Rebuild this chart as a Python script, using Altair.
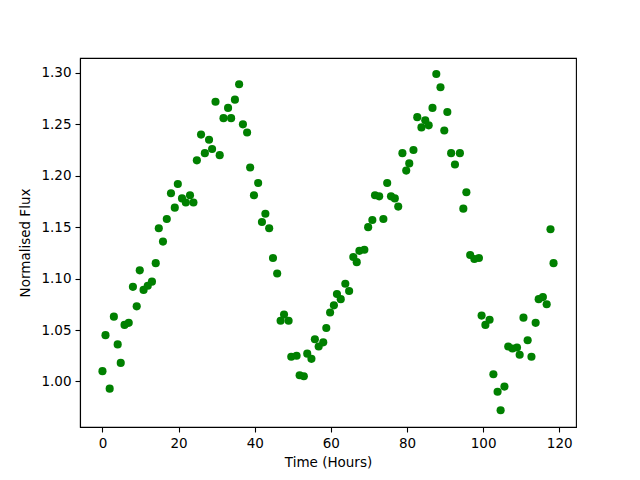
import altair as alt
import pandas as pd

hours = [0.0, 0.8, 1.9, 3.0, 4.0, 4.8, 5.8, 6.9, 8.0, 9.0, 9.8, 10.8, 11.9, 13.0, 14.0, 14.8,
         15.9, 16.9, 18.0, 19.0, 19.8, 20.9, 21.9, 23.0, 23.9, 24.8, 25.9, 26.9, 28.0, 28.8,
         29.7, 30.8, 31.8, 33.0, 33.8, 34.8, 35.9, 36.9, 38.0, 38.8, 39.8, 40.9, 41.9, 42.8,
         43.8, 44.8, 45.9, 46.8, 47.7, 48.9, 49.6, 51.0, 51.8, 52.9, 53.8, 54.9, 55.8, 56.8,
         58.0, 58.8, 59.8, 60.8, 61.6, 62.6, 63.8, 64.8, 65.9, 66.8, 67.5, 68.8, 69.8, 70.9,
         71.6, 72.7, 73.8, 74.8, 75.8, 76.8, 77.7, 78.8, 79.8, 80.6, 81.7, 82.7, 83.8, 84.8,
         85.7, 86.7, 87.7, 88.8, 89.8, 90.6, 91.6, 92.6, 93.9, 94.8, 95.6, 96.6, 97.7, 98.9,
         99.6, 100.6, 101.7, 102.7, 103.8, 104.6, 105.6, 106.6, 107.7, 108.9, 109.6, 110.6,
         111.7, 112.7, 113.8, 114.6, 115.7, 116.7, 117.7, 118.5]

flux = [1.010, 1.045, 0.993, 1.063, 1.036, 1.018, 1.055, 1.057, 1.092, 1.073, 1.108, 1.089,
        1.093, 1.097, 1.115, 1.149, 1.136, 1.158, 1.183, 1.169, 1.192, 1.178, 1.174, 1.181,
        1.174, 1.215, 1.240, 1.222, 1.235, 1.226, 1.272, 1.220, 1.256, 1.266, 1.256, 1.274,
        1.289, 1.250, 1.242, 1.208, 1.181, 1.193, 1.155, 1.163, 1.149, 1.120, 1.105, 1.059,
        1.065, 1.059, 1.024, 1.025, 1.006, 1.005, 1.027, 1.022, 1.041, 1.034, 1.038, 1.052,
        1.067, 1.074, 1.085, 1.080, 1.095, 1.088, 1.121, 1.116, 1.127, 1.128, 1.150, 1.157,
        1.181, 1.180, 1.158, 1.193, 1.180, 1.178, 1.170, 1.222, 1.205, 1.212, 1.225, 1.257,
        1.247, 1.254, 1.249, 1.266, 1.299, 1.286, 1.244, 1.262, 1.222, 1.211, 1.222, 1.168,
        1.184, 1.123, 1.119, 1.120, 1.064, 1.055, 1.060, 1.007, 0.990, 0.972, 0.995, 1.034,
        1.032, 1.033, 1.026, 1.062, 1.040, 1.024, 1.057, 1.080, 1.082, 1.075, 1.148, 1.115]

x_ticks = [0, 20, 40, 60, 80, 100, 120]
y_ticks = [1.00, 1.05, 1.10, 1.15, 1.20, 1.25, 1.30]

df = pd.DataFrame({"Time": hours, "Flux": flux})

chart = alt.Chart(df).mark_point(
    filled=True, shape="circle", size=66, color="#008000", opacity=1, strokeWidth=0
).encode(
    x=alt.X("Time:Q", scale=alt.Scale(domain=[-5.9, 124.4], nice=False, zero=False),
            axis=alt.Axis(values=x_ticks, title="Time (Hours)", format="d")),
    y=alt.Y("Flux:Q", scale=alt.Scale(domain=[0.9557, 1.3145], nice=False, zero=False),
            axis=alt.Axis(values=y_ticks, title="Normalised Flux", format=".2f")),
).properties(
    width=496, height=369,
    autosize=alt.AutoSizeParams(type="none"),
    padding={"left": 72, "top": 50, "right": 56, "bottom": 45},
).configure_view(
    stroke="black", strokeWidth=1.1
).configure_axis(
    grid=False, domainColor="black", domainWidth=1.1, tickColor="black", tickWidth=1.1,
    tickSize=5, labelPadding=4, labelFont="DejaVu Sans", labelFontSize=13.5,
    labelColor="black", titleFont="DejaVu Sans", titleFontSize=13.5, titleFontWeight="normal",
    titleColor="black", titlePadding=6
).configure_axisX(labelAngle=0).configure_axisY(titlePadding=8)

chart.save("out.html", embed_options={"renderer": "svg", "actions": False})
